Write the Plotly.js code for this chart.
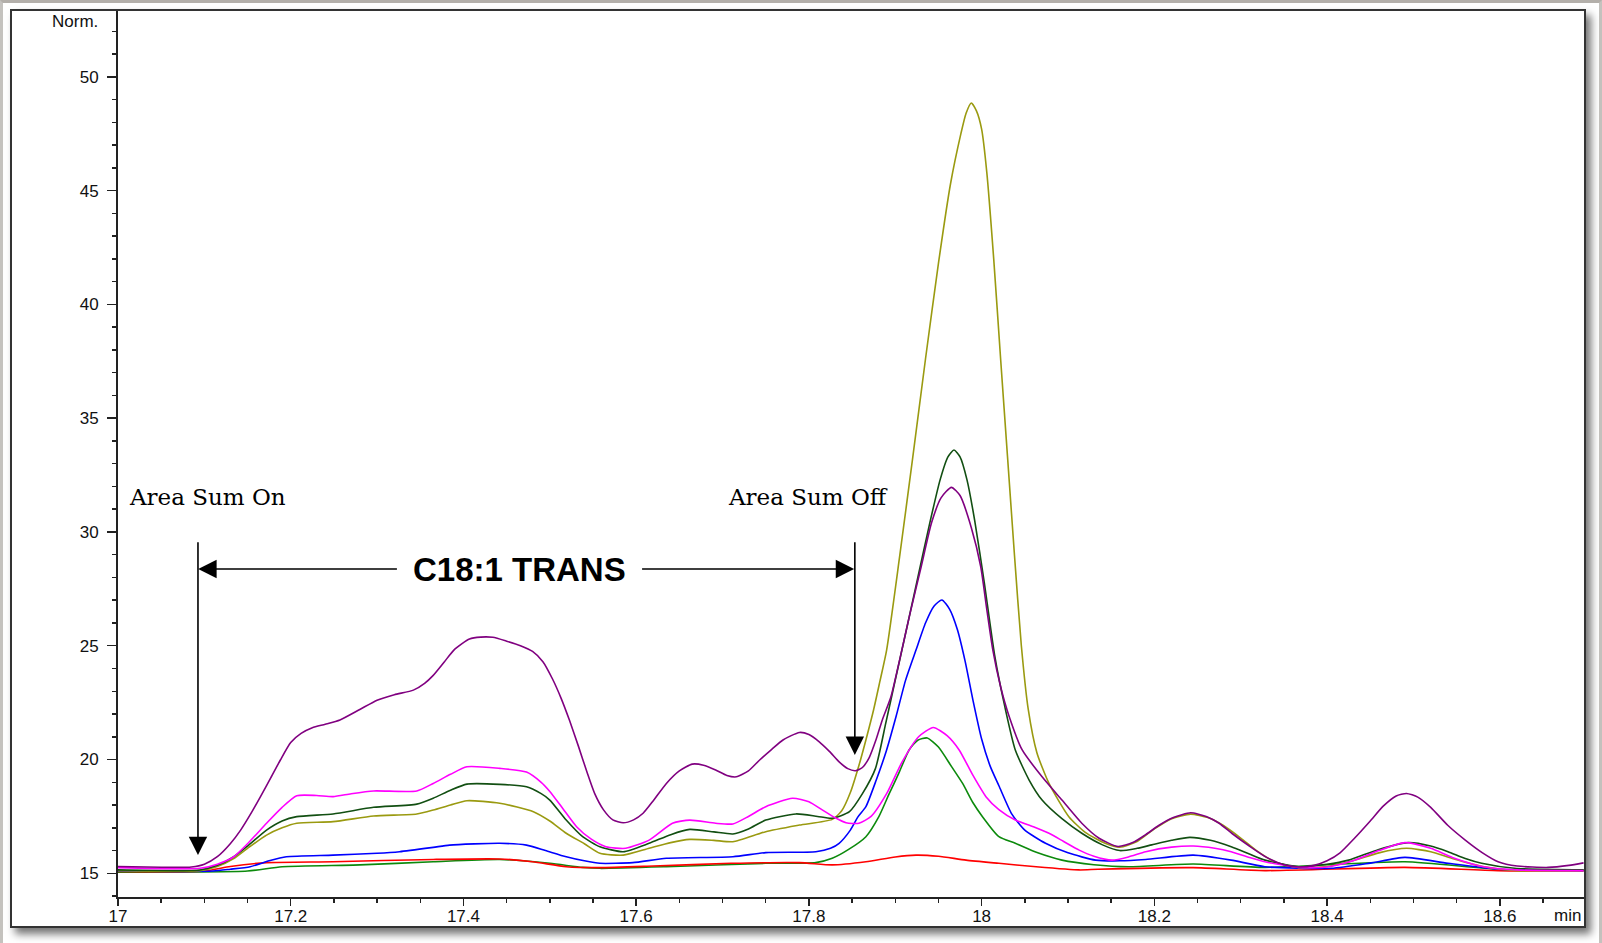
<!DOCTYPE html>
<html>
<head>
<meta charset="utf-8">
<script src="https://cdn.plot.ly/plotly-3.0.1.min.js"></script>
<style>
  html, body { margin: 0; padding: 0; }
  body {
    width: 1602px; height: 943px; overflow: hidden; position: relative;
    background: #ececec;
  }
  #edge {
    position: absolute; left: 0; top: 0; width: 1602px; height: 943px;
    box-sizing: border-box;
    border-top: 3px solid #b3afaa; border-left: 3px solid #c4c2be; border-right: 3px solid #c4c2be;
    background: #ffffff;
  }
  #frame {
    position: absolute; left: 10px; top: 9px; width: 1576px; height: 919px;
    box-sizing: border-box; border: 2px solid #333333; background: #ffffff;
    box-shadow: 5px 6px 8px rgba(0,0,0,0.55); overflow: hidden;
  }
  #chart { width: 1572px; height: 915px; }
</style>
</head>
<body>
<div id="edge"></div>
<div id="frame"><div id="chart"></div></div>
<script>
// Retention time (min) and normalised detector signal for each overlaid run.
const purpleTime = [17.000,17.050,17.085,17.100,17.115,17.130,17.142,17.155,17.165,17.177,17.188,17.200,17.212,17.225,17.240,17.257,17.280,17.300,17.320,17.342,17.355,17.365,17.378,17.390,17.407,17.420,17.434,17.450,17.466,17.480,17.492,17.503,17.513,17.523,17.533,17.543,17.552,17.562,17.573,17.585,17.597,17.608,17.620,17.635,17.650,17.665,17.678,17.692,17.705,17.716,17.730,17.743,17.757,17.770,17.789,17.800,17.812,17.824,17.835,17.845,17.854,17.862,17.870,17.878,17.885,17.895,17.905,17.917,17.930,17.942,17.953,17.965,17.975,17.988,17.999,18.006,18.013,18.022,18.032,18.047,18.070,18.093,18.116,18.136,18.158,18.175,18.190,18.205,18.222,18.242,18.260,18.275,18.290,18.310,18.330,18.350,18.367,18.385,18.400,18.415,18.432,18.450,18.465,18.480,18.492,18.505,18.520,18.540,18.560,18.580,18.598,18.620,18.656,18.680,18.697];
const purpleNorm = [15.30,15.27,15.28,15.40,15.73,16.30,16.90,17.70,18.37,19.20,19.98,20.75,21.15,21.40,21.55,21.74,22.20,22.61,22.85,23.05,23.35,23.70,24.30,24.85,25.30,25.38,25.37,25.20,25.00,24.75,24.30,23.55,22.70,21.70,20.60,19.45,18.50,17.80,17.35,17.22,17.35,17.64,18.20,18.95,19.50,19.80,19.75,19.54,19.30,19.24,19.50,19.98,20.45,20.86,21.19,21.10,20.78,20.35,19.90,19.60,19.51,19.65,20.10,20.90,21.74,22.76,24.37,26.40,28.47,30.40,31.50,31.96,31.60,30.20,28.47,26.60,24.81,23.20,21.88,20.42,19.24,18.22,17.20,16.54,16.18,16.35,16.70,17.10,17.45,17.66,17.50,17.20,16.75,16.20,15.70,15.38,15.28,15.35,15.55,15.90,16.55,17.30,17.95,18.40,18.51,18.35,17.90,17.10,16.46,15.90,15.51,15.32,15.26,15.35,15.46];

const magentaTime = [17.000,17.095,17.115,17.134,17.150,17.172,17.190,17.207,17.230,17.249,17.270,17.296,17.346,17.365,17.385,17.404,17.442,17.473,17.490,17.500,17.515,17.531,17.548,17.565,17.588,17.615,17.642,17.662,17.692,17.712,17.730,17.750,17.781,17.800,17.815,17.830,17.843,17.858,17.872,17.890,17.908,17.927,17.944,17.960,17.974,17.990,18.005,18.020,18.039,18.060,18.078,18.095,18.113,18.130,18.151,18.170,18.190,18.220,18.245,18.270,18.289,18.310,18.328,18.367,18.400,18.430,18.460,18.490,18.520,18.545,18.580,18.620,18.697];
const magentaNorm = [15.25,15.22,15.40,15.73,16.30,17.20,17.90,18.41,18.42,18.37,18.50,18.62,18.62,18.95,19.35,19.68,19.61,19.45,19.00,18.60,17.85,17.05,16.50,16.17,16.10,16.46,17.20,17.34,17.20,17.17,17.50,17.93,18.30,18.15,17.80,17.45,17.22,17.20,17.50,18.50,19.90,21.00,21.41,21.05,20.42,19.30,18.37,17.80,17.34,17.05,16.76,16.40,16.02,15.75,15.58,15.72,15.95,16.15,16.20,16.10,15.95,15.70,15.51,15.26,15.28,15.55,16.00,16.35,16.10,15.70,15.30,15.15,15.12];

const darkGreenTime = [17.000,17.095,17.115,17.134,17.150,17.172,17.190,17.207,17.249,17.296,17.346,17.365,17.385,17.404,17.442,17.473,17.490,17.500,17.519,17.538,17.558,17.585,17.615,17.640,17.662,17.690,17.712,17.730,17.750,17.785,17.810,17.827,17.847,17.862,17.877,17.889,17.900,17.910,17.925,17.940,17.952,17.961,17.968,17.975,17.983,17.992,18.003,18.015,18.027,18.039,18.055,18.070,18.093,18.116,18.140,18.160,18.180,18.197,18.220,18.241,18.265,18.289,18.310,18.328,18.367,18.400,18.425,18.460,18.494,18.520,18.540,18.560,18.579,18.617,18.697];
const darkGreenNorm = [15.15,15.15,15.35,15.73,16.20,16.90,17.30,17.49,17.61,17.90,18.04,18.30,18.65,18.92,18.91,18.80,18.50,18.22,17.34,16.61,16.17,15.95,16.32,16.70,16.93,16.82,16.73,16.95,17.34,17.61,17.50,17.42,17.71,18.50,19.60,21.60,23.49,25.20,27.80,30.40,32.30,33.30,33.60,33.30,32.30,30.50,27.80,24.60,22.30,20.42,19.10,18.22,17.40,16.76,16.25,16.00,16.10,16.25,16.45,16.58,16.45,16.17,15.85,15.58,15.29,15.40,15.58,16.05,16.35,16.20,15.95,15.65,15.44,15.22,15.15];

const oliveTime = [17.000,17.095,17.115,17.134,17.150,17.172,17.190,17.207,17.249,17.296,17.346,17.365,17.385,17.404,17.442,17.481,17.500,17.519,17.540,17.558,17.585,17.615,17.640,17.662,17.690,17.712,17.750,17.789,17.827,17.838,17.848,17.858,17.866,17.875,17.882,17.890,17.905,17.920,17.935,17.950,17.964,17.976,17.982,17.988,17.994,18.000,18.006,18.014,18.022,18.030,18.038,18.046,18.054,18.064,18.078,18.101,18.120,18.143,18.160,18.180,18.200,18.220,18.242,18.262,18.280,18.300,18.320,18.340,18.367,18.400,18.430,18.460,18.492,18.520,18.545,18.580,18.620,18.697];
const oliveNorm = [15.12,15.12,15.30,15.65,16.10,16.68,17.00,17.20,17.27,17.52,17.61,17.78,18.00,18.19,18.08,17.71,17.30,16.76,16.30,15.88,15.80,16.10,16.35,16.49,16.45,16.39,16.83,17.12,17.37,17.75,18.55,19.75,20.86,22.20,23.40,24.81,28.90,33.20,37.60,41.80,45.30,47.50,48.40,48.85,48.50,47.70,45.80,42.00,37.60,33.30,29.00,25.00,22.20,20.30,18.95,17.49,16.80,16.32,16.15,16.40,16.95,17.40,17.60,17.45,17.10,16.55,15.95,15.50,15.25,15.30,15.55,15.90,16.10,15.95,15.65,15.30,15.12,15.12];

const blueTime = [17.000,17.110,17.130,17.153,17.175,17.195,17.249,17.300,17.326,17.365,17.384,17.442,17.473,17.495,17.519,17.540,17.558,17.596,17.635,17.712,17.750,17.808,17.825,17.835,17.848,17.857,17.866,17.878,17.890,17.901,17.912,17.924,17.935,17.945,17.954,17.963,17.972,17.981,17.990,18.000,18.010,18.020,18.035,18.050,18.074,18.100,18.132,18.160,18.190,18.245,18.289,18.328,18.405,18.450,18.490,18.540,18.598,18.697];
const blueNorm = [15.10,15.10,15.18,15.29,15.55,15.73,15.80,15.88,15.95,16.14,16.24,16.32,16.24,16.00,15.73,15.55,15.44,15.47,15.66,15.73,15.91,15.95,16.10,16.32,16.90,17.49,17.93,19.10,20.42,21.90,23.49,24.81,26.00,26.75,27.01,26.60,25.70,24.30,22.60,20.90,19.70,18.85,17.60,16.90,16.32,15.90,15.58,15.55,15.61,15.80,15.58,15.29,15.22,15.45,15.70,15.44,15.18,15.12];

const redTime = [17.000,17.100,17.130,17.172,17.249,17.365,17.442,17.480,17.519,17.558,17.620,17.710,17.789,17.827,17.866,17.900,17.924,17.950,17.982,18.020,18.060,18.113,18.135,18.245,18.328,18.490,18.598,18.697];
const redNorm = [15.08,15.10,15.30,15.47,15.51,15.61,15.63,15.51,15.29,15.25,15.32,15.44,15.47,15.37,15.51,15.72,15.80,15.75,15.58,15.44,15.30,15.15,15.18,15.25,15.12,15.26,15.12,15.10];

const greenTime = [17.000,17.150,17.190,17.280,17.365,17.442,17.500,17.538,17.558,17.635,17.750,17.808,17.827,17.846,17.866,17.881,17.893,17.904,17.916,17.926,17.937,17.950,17.965,17.978,17.990,18.001,18.020,18.039,18.065,18.093,18.130,18.170,18.245,18.328,18.490,18.598,18.697];
const greenNorm = [15.05,15.10,15.29,15.37,15.51,15.61,15.44,15.26,15.22,15.29,15.44,15.47,15.66,16.05,16.61,17.49,18.50,19.39,20.42,20.85,20.95,20.55,19.70,18.95,18.10,17.49,16.61,16.32,15.90,15.58,15.38,15.29,15.41,15.26,15.51,15.18,15.15];

// Axis ticks
const xTickVals = [17, 17.2, 17.4, 17.6, 17.8, 18, 18.2, 18.4, 18.6];
const xTickText = ['17', '17.2', '17.4', '17.6', '17.8', '18', '18.2', '18.4', '18.6'];
const yTickVals = [15, 20, 25, 30, 35, 40, 45, 50];
const yTickText = ['15', '20', '25', '30', '35', '40', '45', '50'];

// Integration window markers
const sumOnTime = 17.0926;
const sumOffTime = 17.8532;
const markerTop = 29.61;
const sumOnTip = 15.80;
const sumOffTip = 20.20;
const spanLevel = 28.37;
const spanLabelTime = 17.4644;
const spanLeftTail = 17.3247;
const spanRightTail = 17.6051;
const captionLevel = 31.55;

function run(t, v, color) {
  return {
    x: t, y: v, type: 'scatter', mode: 'lines',
    line: { color: color, width: 1.6, shape: 'spline', smoothing: 0.6 },
    hoverinfo: 'skip', showlegend: false
  };
}

const traces = [
  run(greenTime, greenNorm, '#0c8a0c'),
  run(redTime, redNorm, '#ff0000'),
  run(blueTime, blueNorm, '#0000ff'),
  run(oliveTime, oliveNorm, '#9a9a10'),
  run(darkGreenTime, darkGreenNorm, '#124f12'),
  run(magentaTime, magentaNorm, '#ff00ff'),
  run(purpleTime, purpleNorm, '#800080')
];

const tickFont = { family: 'Liberation Sans, Arial, sans-serif', size: 17, color: '#111' };
const serifFont = { family: 'DejaVu Serif, serif', size: 23, color: '#000' };

function arrow(xTip, yTip, xTail, yTail) {
  return {
    x: xTip, y: yTip, xref: 'x', yref: 'y',
    ax: xTail, ay: yTail, axref: 'x', ayref: 'y',
    text: '', showarrow: true, arrowhead: 2, arrowsize: 2.3, arrowwidth: 1.6,
    arrowcolor: '#000', standoff: 0
  };
}

const layout = {
  width: 1572, height: 915,
  margin: { l: 106, r: 0, t: 0, b: 29 },
  paper_bgcolor: '#ffffff', plot_bgcolor: '#ffffff',
  xaxis: {
    range: [17, 18.6975], showgrid: false, zeroline: false,
    showline: true, linecolor: '#222', linewidth: 2,
    tickmode: 'array', tickvals: xTickVals, ticktext: xTickText,
    ticks: 'outside', ticklen: 7, tickwidth: 1.5, tickcolor: '#222',
    tickfont: tickFont, ticklabelstandoff: -4,
    minor: { tickmode: 'linear', tick0: 17, dtick: 0.05, ticks: 'outside', ticklen: 4, tickwidth: 1.5, tickcolor: '#222' }
  },
  yaxis: {
    range: [13.96, 52.89], showgrid: false, zeroline: false,
    showline: true, linecolor: '#222', linewidth: 2,
    tickmode: 'array', tickvals: yTickVals, ticktext: yTickText,
    ticks: 'outside', ticklen: 9, tickwidth: 1.5, tickcolor: '#222',
    tickfont: tickFont, ticklabelstandoff: 5,
    minor: { tickmode: 'linear', tick0: 15, dtick: 1, ticks: 'outside', ticklen: 4, tickwidth: 1.5, tickcolor: '#222' }
  },
  annotations: [
    { text: 'Norm.', xref: 'paper', yref: 'paper', x: -0.012, y: 0.988,
      xanchor: 'right', yanchor: 'middle', showarrow: false, font: tickFont },
    { text: 'min', xref: 'paper', yref: 'paper', x: 1, y: 0, yshift: -18, xshift: -1,
      xanchor: 'right', yanchor: 'middle', showarrow: false, font: tickFont },
    { text: 'Area Sum On', xref: 'x', yref: 'y', x: 17.0142, y: captionLevel, xshift: -3,
      xanchor: 'left', yanchor: 'middle', showarrow: false, font: serifFont },
    { text: 'Area Sum Off', xref: 'x', yref: 'y', x: 17.7085, y: captionLevel, xshift: -4,
      xanchor: 'left', yanchor: 'middle', showarrow: false, font: serifFont },
    { text: '<b>C18:1 TRANS</b>', xref: 'x', yref: 'y', x: spanLabelTime, y: spanLevel,
      xanchor: 'center', yanchor: 'middle', showarrow: false,
      font: { family: 'Liberation Sans, Arial, sans-serif', size: 33, color: '#000' } },
    arrow(sumOnTime, sumOnTip, sumOnTime, markerTop),
    arrow(sumOffTime, sumOffTip, sumOffTime, markerTop),
    arrow(sumOnTime + 0.0003, spanLevel, spanLeftTail, spanLevel),
    arrow(sumOffTime - 0.0008, spanLevel, spanRightTail, spanLevel)
  ]
};

Plotly.newPlot('chart', traces, layout, { displayModeBar: false, staticPlot: true });
</script>
</body>
</html>
